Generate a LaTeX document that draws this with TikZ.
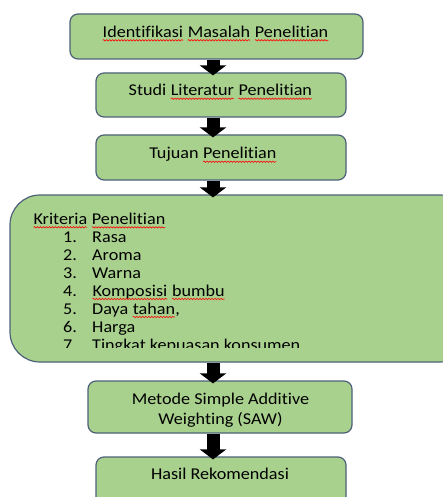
\documentclass[tikz,border=0pt]{standalone}
\usepackage{fontspec}
\setmainfont{Carlito}[FakeStretch=1.1,Ligatures=NoCommon]
\usetikzlibrary{arrows.meta,decorations.pathmorphing}
\definecolor{boxfill}{HTML}{A9D18E}
\definecolor{boxline}{HTML}{4C6178}
\newcommand\spell[1]{\tikz[baseline=(w.base)]{\node[inner sep=0pt,outer sep=0pt] (w) {#1};
  \draw[red,line width=0.6pt,decorate,decoration={snake,amplitude=0.7pt,segment length=3pt}]
  ([yshift=-3pt]w.base west) -- ([yshift=-3pt]w.base east);}}
\begin{document}
\begin{tikzpicture}
[x=1pt,y=-1pt,
  boxdecorate/.style={draw=boxline,fill=boxfill,line width=1.2pt,rounded corners=8pt},%
  textdecorate/.style={inner sep=0pt,anchor=base,font=\fontsize{16.5}{20}\selectfont},%
  arrowdecorate/.style={line width=13pt,-{Triangle[width=26pt,length=10pt]}}]
\clip (0,0) rectangle (443,497);
%% boxes
\foreach \boxname/\x/\y/\w/\h in {b1/216.5/36.5/293/45, b2/221/95/250/44,
  b3/221/157.5/250/45, b5/220/407/264/52, b6/221/487/250/60} {
  \node (\boxname) at (\x,\y) [boxdecorate,minimum width=\w pt,minimum height=\h pt] {};
}
\node (b4) at (240,278.5) [boxdecorate,rounded corners=30pt,minimum width=460pt,minimum height=167pt] {};
%% texts
\node (t1) at (215.5,37.3) [textdecorate] {\spell{Identifikasi} \spell{Masalah} \spell{Penelitian}};
\node (t2) at (220.5,95.7) [textdecorate] {Studi \spell{Literatur} \spell{Penelitian}};
\node (t3) at (213,158.7) [textdecorate] {Tujuan \spell{Penelitian}};
\node (t5) at (220.5,424) [textdecorate,align=center] {Metode Simple Additive\\Weighting (SAW)};
\node (t6) at (220,479) [textdecorate] {Hasil Rekomendasi};
\begin{scope}
\clip (0,195) rectangle (443,347);
\node (t4) at (33,224.3) [textdecorate,anchor=base west] {\spell{Kriteria} \spell{Penelitian}};
\foreach \num/\item [count=\i] in {1./Rasa, 2./Aroma, 3./Warna,
  4./\spell{Komposisi} \spell{bumbu}, 5./Daya \spell{tahan}{,}, 6./Harga,
  7./Tingkat kepuasan konsumen} {
  \node (n\i) at (63,242+18*\i-18) [textdecorate,anchor=base west] {\num};
  \node (k\i) at (92,242+18*\i-18) [textdecorate,anchor=base west] {\item};
}
\end{scope}
%% arrows
\coordinate (axis) at (213,0);
\foreach \startnode/\endnode in {b1/b2, b2/b3, b3/b4, b4/b5, b5/b6} {
  \draw[arrowdecorate] (\startnode.south -| axis) -- ([yshift=-3pt]\endnode.north -| axis);
}
\end{tikzpicture}
\end{document}
